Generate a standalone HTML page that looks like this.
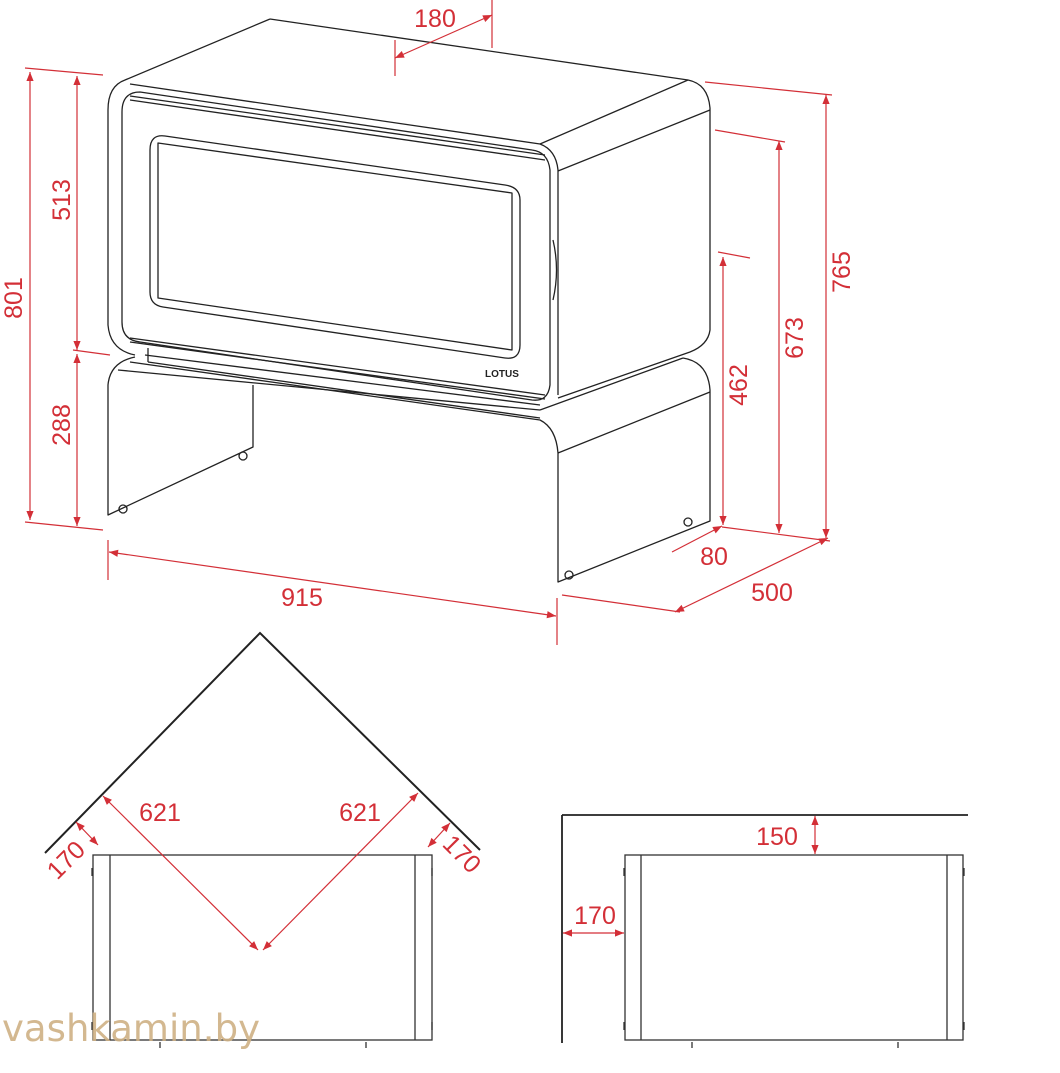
<!DOCTYPE html>
<html><head><meta charset="utf-8"><style>
html,body{margin:0;padding:0;background:#fff;width:1060px;height:1073px;overflow:hidden}
svg{display:block}
text{font-family:"Liberation Sans",sans-serif;fill:#d32f37;font-size:25px}
</style></head><body>
<svg width="1060" height="1073" viewBox="0 0 1060 1073" xmlns="http://www.w3.org/2000/svg">
<defs>
<marker id="a" viewBox="0 0 10 10" refX="10" refY="5" markerWidth="18" markerHeight="9" markerUnits="userSpaceOnUse" orient="auto-start-reverse"><path d="M0,1 L10,5 L0,9 z" fill="#d32f37"/></marker>
</defs>
<g fill="none" stroke="#222" stroke-width="1.3" stroke-linejoin="round">
<path d="M270,19 L688,80 Q708,84 710,108 L710,330 Q708,345 690,352 L558,398"/>
<path d="M270,19 L125,80 Q108,86 108,110 L108,325 Q110,350 135,355"/>
<path d="M130,84 L540,144 Q556,150 558,170 L558,395"/>
<path d="M558,171 L710,110"/>
<path d="M540,144 L688,80"/>
<path d="M140,92 Q122,92 122,112 L122,322 Q122,340 140,342 L532,400 Q548,402 550,385 L550,170 Q548,152 532,150 Z"/>
<path d="M130,96 L545,155 M130,100 L545,160"/>
<path d="M165,136 Q150,134 150,150 L150,292 Q150,305 163,307 L505,358 Q520,360 520,345 L520,200 Q520,187 505,185 Z"/>
<path d="M158,143 L158,298 L512,350 L512,193 Z"/>
<path d="M130,338 L545,395 M130,342 L545,399"/>
<path d="M553,240 Q560,270 553,300"/>
<path d="M135,357 Q110,362 108,385 L108,515 L253,447 L253,385"/>
<path d="M130,362 L540,420 Q556,428 558,453 L558,582 L710,521 L710,390 Q708,362 683,358"/>
<path d="M118,370 L540,410 M145,355 L540,405 M540,410 L683,358"/>
<path d="M558,453 L710,392"/>
<path d="M148,348 L148,362 M148,362 L540,418"/>
<circle cx="123" cy="509" r="4"/><circle cx="243" cy="456" r="4"/><circle cx="569" cy="575" r="4"/><circle cx="688" cy="522" r="4"/>
</g>
<text x="485" y="377" style="fill:#222;font-size:10px;font-weight:bold">LOTUS</text>
<g stroke="#d32f37" stroke-width="1.2" fill="none">
<path d="M25,68 L103,75 M25,522 L103,530 M73,350 L110,355"/>
<path d="M30,72 L30,520" marker-start="url(#a)" marker-end="url(#a)"/>
<path d="M77,76 L77,350" marker-start="url(#a)" marker-end="url(#a)"/>
<path d="M77,354 L77,526" marker-start="url(#a)" marker-end="url(#a)"/>
<path d="M108,540 L108,580 M557,598 L557,645 M562,595 L680,612"/>
<path d="M109,552 L556,616" marker-start="url(#a)" marker-end="url(#a)"/>
<path d="M675,612 L828,538" marker-start="url(#a)" marker-end="url(#a)"/>
<path d="M672,552 L722,526" marker-end="url(#a)"/>
<path d="M722,527 L830,541"/>
<path d="M705,82 L832,95 M715,130 L785,142 M718,252 L750,258"/>
<path d="M826,95 L826,538" marker-start="url(#a)" marker-end="url(#a)"/>
<path d="M779,141 L779,533" marker-start="url(#a)" marker-end="url(#a)"/>
<path d="M723,257 L723,525" marker-start="url(#a)" marker-end="url(#a)"/>
<path d="M395,40 L395,76 M492,0 L492,48"/>
<path d="M395,58 L492,15" marker-start="url(#a)" marker-end="url(#a)"/>
</g>
<text transform="translate(22,298) rotate(-90)" text-anchor="middle">801</text>
<text transform="translate(70,200) rotate(-90)" text-anchor="middle">513</text>
<text transform="translate(70,425) rotate(-90)" text-anchor="middle">288</text>
<text transform="translate(850,272) rotate(-90)" text-anchor="middle">765</text>
<text transform="translate(803,338) rotate(-90)" text-anchor="middle">673</text>
<text transform="translate(747,385) rotate(-90)" text-anchor="middle">462</text>
<text x="302" y="606" text-anchor="middle">915</text>
<text x="772" y="601" text-anchor="middle">500</text>
<text x="714" y="565" text-anchor="middle">80</text>
<text x="435" y="27" text-anchor="middle">180</text>
<g fill="none" stroke="#222" stroke-width="2">
<path d="M45,853 L260,633 L480,850"/>
</g>
<g fill="none" stroke="#333" stroke-width="1.3">
<rect x="93" y="855" width="339" height="185"/>
<path d="M110,855 L110,1040 M415,855 L415,1040"/>
<path d="M92,868 v8 M432,868 v8 M92,1022 v8 M432,1022 v8 M160,1042 v6 M366,1042 v6"/>
<path d="M562,815 L968,815 M562,815 L562,1043" stroke="#222" stroke-width="1.8"/>
<rect x="625" y="855" width="338" height="185"/>
<path d="M641,855 L641,1040 M947,855 L947,1040"/>
<path d="M624,868 v8 M964,868 v8 M624,1022 v8 M964,1022 v8 M692,1042 v6 M898,1042 v6"/>
</g>
<g stroke="#d32f37" stroke-width="1.2" fill="none">
<path d="M103,796 L258,950" marker-start="url(#a)" marker-end="url(#a)"/>
<path d="M418,793 L263,950" marker-start="url(#a)" marker-end="url(#a)"/>
<path d="M76,822 L98,845" marker-start="url(#a)" marker-end="url(#a)"/>
<path d="M450,823 L428,847" marker-start="url(#a)" marker-end="url(#a)"/>
<path d="M815,816 L815,854" marker-start="url(#a)" marker-end="url(#a)"/>
<path d="M563,933 L624,933" marker-start="url(#a)" marker-end="url(#a)"/>
</g>
<text x="160" y="821" text-anchor="middle">621</text>
<text x="360" y="821" text-anchor="middle">621</text>
<text transform="translate(72,866) rotate(-45)" text-anchor="middle">170</text>
<text transform="translate(456,860) rotate(45)" text-anchor="middle">170</text>
<text x="777" y="845" text-anchor="middle">150</text>
<text x="595" y="924" text-anchor="middle">170</text>
<text x="2" y="1041" style="fill:#cfb185;font-size:37px;font-family:'DejaVu Sans',sans-serif;opacity:0.9" textLength="258">vashkamin.by</text>
</svg>
</body></html>
